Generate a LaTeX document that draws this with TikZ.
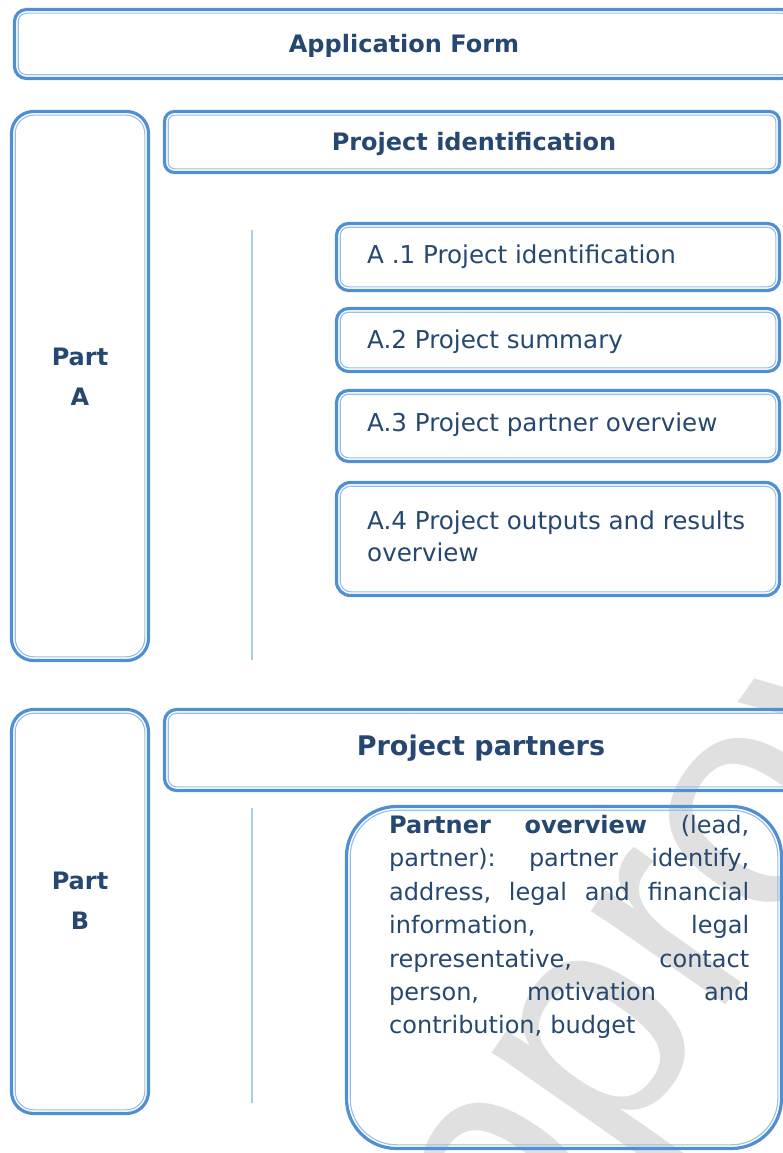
\documentclass[tikz,border=0pt]{standalone}
\usepackage{fontspec}
\setmainfont{DejaVu Sans}
\newfontfamily\wmfont{Liberation Sans}
\definecolor{bOut}{RGB}{80,144,210}
\definecolor{bIn}{RGB}{150,190,232}
\definecolor{txt}{RGB}{38,72,112}
\definecolor{vline}{RGB}{170,205,238}
\definecolor{wmgrey}{RGB}{224,224,224}
\tikzset{
  box/.style={rectangle, rounded corners=#1, draw=bOut, line width=3.2pt,
    inner sep=0pt,
    path picture={\draw[bIn, line width=1.1pt, rounded corners=#1-3.5pt]
      ([shift={(3.7pt,3.7pt)}]path picture bounding box.south west) rectangle
      ([shift={(-3.7pt,-3.7pt)}]path picture bounding box.north east);}},
  box/.default=12pt,
  lbl/.style={text=txt, font=\fontsize{24}{40}\selectfont\bfseries, align=center, inner sep=0pt},
  itm/.style={text=txt, font=\fontsize{24.6}{32}\selectfont, align=left, inner sep=0pt},
  vrule/.style={draw=vline, line width=2.2pt},
}
\newcommand{\jline}[1]{\makebox[360pt]{#1}\\}
\begin{document}
\begin{tikzpicture}[x=1pt,y=-1pt]
\useasboundingbox (0,0) rectangle (783,1153);
\clip (0,0) rectangle (783,1153);
% watermark
\node[text=wmgrey, font=\wmfont\fontsize{310}{310}\selectfont, rotate=55] (wmark) at (712,885) {Approved};
% top
\node[box=12pt, minimum width=779pt, minimum height=69pt] (app) at (404,44) {};
\node[lbl] (appt) at (404,46) {Application Form};
% part A
\node[box=22pt, minimum width=137pt, minimum height=549pt] (partA) at (80,386) {};
\node[lbl] (partAt) at (80,377) {Part\\A};
\node[box=10pt, minimum width=615pt, minimum height=61pt] (pid) at (472,142) {};
\node[lbl] (pidt) at (474,144) {Project identification};
\coordinate (va1) at (252,230);
\coordinate (va2) at (252,660);
\draw[vrule] (va1) -- (va2);
\node[box=12pt, minimum width=443pt, minimum height=67pt] (a1) at (558,257) {};
\node[itm, anchor=west] (a1t) at (367,257) {A .1 Project identification};
\node[box=12pt, minimum width=443pt, minimum height=63pt] (a2) at (558,340) {};
\node[itm, anchor=west] (a2t) at (367,342) {A.2 Project summary};
\node[box=12pt, minimum width=443pt, minimum height=71pt] (a3) at (558,426) {};
\node[itm, anchor=west] (a3t) at (367,425) {A.3 Project partner overview};
\node[box=14pt, minimum width=443pt, minimum height=113pt] (a4) at (558,539) {};
\node[itm, anchor=west] (a4t) at (367,536) {A.4 Project outputs and results\\overview};
% part B
\node[box=22pt, minimum width=137pt, minimum height=404pt] (partB) at (80,911.5) {};
\node[lbl] (partBt) at (80,901) {Part\\B};
\node[box=12pt, minimum width=633pt, minimum height=81pt] (pp) at (481,750) {};
\node[text=txt, font=\fontsize{27}{30}\selectfont\bfseries, inner sep=0pt] (ppt) at (481,748) {Project partners};
\coordinate (vb1) at (252,808);
\coordinate (vb2) at (252,1103);
\draw[vrule] (vb1) -- (vb2);
\node[box=50pt, minimum width=435pt, minimum height=342pt] (po) at (564,977.5) {};
\node[text=txt, font=\fontsize{24}{33.4}\selectfont, align=left, text width=360pt, inner sep=0pt, anchor=north west] (pot) at (389,815) {%
\jline{\textbf{Partner}\hfill\textbf{overview}\hfill(lead,}%
\jline{partner):\hfill partner\hfill identify,}%
\jline{address,\hfill legal\hfill and\hfill financial}%
\jline{information,\hfill legal}%
\jline{representative,\hfill contact}%
\jline{person,\hfill motivation\hfill and}%
contribution, budget};
\end{tikzpicture}
\end{document}
